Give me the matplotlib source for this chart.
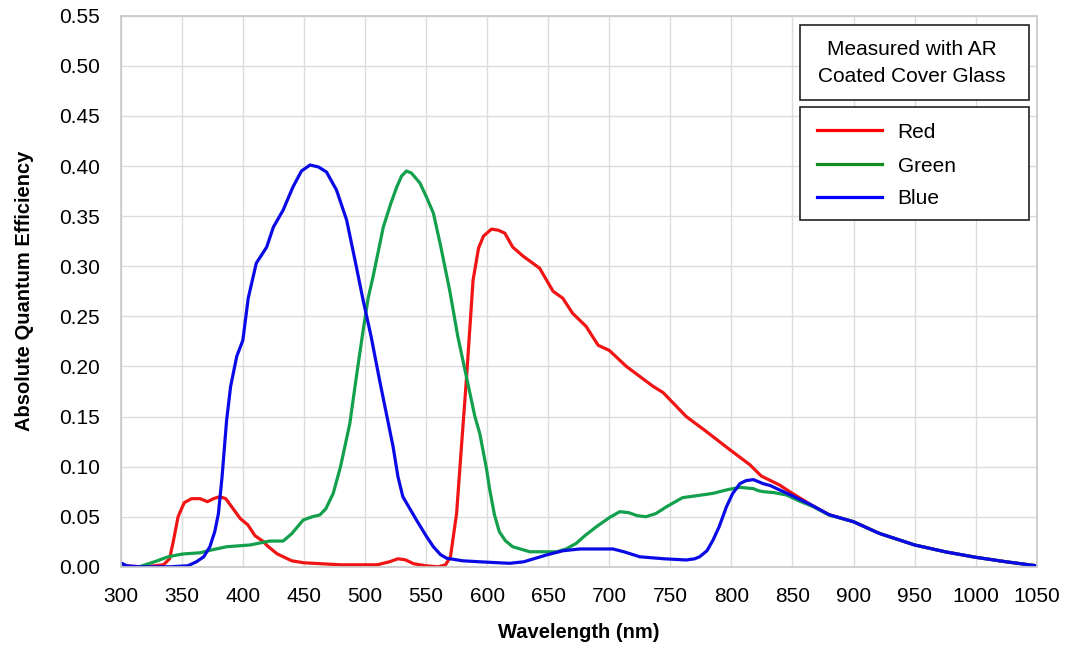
import matplotlib
matplotlib.use("Agg")
import matplotlib.pyplot as plt
from matplotlib.patches import Rectangle
from matplotlib.lines import Line2D

plt.rcParams['font.family'] = ['Liberation Sans', 'DejaVu Sans']

red_x = [300, 320, 335, 340, 343, 347, 352, 358, 365, 371, 376, 381, 386, 392, 398, 404, 410, 417, 420, 428, 440, 450,
         465, 480, 500, 510, 520, 527, 533, 540, 550, 560, 566, 570, 575, 579, 583, 588.5, 593, 597, 603.6, 609, 614.5,
         621, 629.5, 643, 654, 662, 670, 681, 691, 700, 714, 725, 736, 744, 763, 779.5, 798.6, 815, 824.5, 839.5,
         847.7, 865, 880, 900, 921, 950, 975, 1000, 1025, 1050]
red_y = [0.001, 0.000, 0.002, 0.008, 0.025, 0.050, 0.064, 0.068, 0.068, 0.065, 0.068, 0.070, 0.068, 0.058, 0.048, 0.042,
         0.031, 0.025, 0.021, 0.013, 0.006, 0.004, 0.003, 0.002, 0.002, 0.002, 0.005, 0.008, 0.007, 0.003, 0.001,
         0.000, 0.002, 0.010, 0.053, 0.120, 0.186, 0.286, 0.318, 0.330, 0.337, 0.336, 0.333, 0.319, 0.310, 0.298,
         0.275, 0.268, 0.253, 0.240, 0.221, 0.216, 0.200, 0.190, 0.180, 0.174, 0.150, 0.135, 0.117, 0.102, 0.0906,
         0.0816, 0.075, 0.062, 0.052, 0.045, 0.0334, 0.0218, 0.015, 0.0095, 0.005, 0.001]

green_x = [300, 315, 324, 330, 337.6, 345, 351, 365, 375, 386.7, 406, 415, 422, 433, 440, 449.4, 457, 463, 468, 474, 480,
           487.6, 493, 498.5, 502.6, 506.7, 515, 521, 526, 530, 534, 538, 545, 550, 556, 562, 569.5, 576, 583, 590,
           594, 599.5, 602, 606, 610, 615, 621, 635, 657, 665, 673, 680, 689.5, 700, 708.6, 716, 723, 730, 738, 747,
           760, 772, 785, 797, 807, 818, 822, 826, 835, 845, 855, 867, 880, 900, 921, 950, 975, 1000, 1025, 1050]
green_y = [0.000, 0.000, 0.0035, 0.006, 0.0095, 0.0115, 0.0128, 0.014, 0.017, 0.020, 0.0218, 0.024, 0.0257, 0.0257,
           0.033, 0.0467, 0.050, 0.0517, 0.058, 0.0733, 0.100, 0.143, 0.190, 0.236, 0.268, 0.290, 0.339, 0.362, 0.379,
           0.390, 0.395, 0.393, 0.383, 0.370, 0.353, 0.320, 0.275, 0.230, 0.190, 0.150, 0.133, 0.098, 0.078, 0.052,
           0.035, 0.026, 0.020, 0.015, 0.015, 0.018, 0.0234, 0.031, 0.040, 0.049, 0.055, 0.054, 0.051, 0.050, 0.053,
           0.060, 0.069, 0.071, 0.0733, 0.077, 0.0793, 0.078, 0.076, 0.075, 0.074, 0.0717, 0.066, 0.060, 0.0517,
           0.045, 0.0334, 0.0218, 0.015, 0.0095, 0.005, 0.001]

blue_x = [300, 305, 315, 340, 355, 362, 368, 373, 377, 380, 383, 386.7, 390, 395, 400, 404.4, 411, 419.5, 425, 433, 441,
          448, 455, 462, 468.5, 476.7, 485, 492, 498.5, 505, 512, 518, 523, 527, 531, 542, 550, 556, 562, 567, 580,
          594, 610, 618.6, 630, 648.6, 662, 676, 703, 712, 725, 745, 763, 770, 774, 780, 785, 790, 796, 801, 807, 812,
          818, 822, 826, 832, 839.5, 848, 865, 880, 900, 921, 950, 975, 1000, 1025, 1050]
blue_y = [0.004, 0.001, 0.000, 0.000, 0.001, 0.005, 0.010, 0.020, 0.035, 0.053, 0.090, 0.146, 0.180, 0.210, 0.226,
          0.268, 0.303, 0.319, 0.339, 0.356, 0.379, 0.395, 0.401, 0.399, 0.394, 0.376, 0.346, 0.305, 0.266, 0.230,
          0.186, 0.150, 0.120, 0.090, 0.070, 0.047, 0.031, 0.020, 0.012, 0.0085, 0.006, 0.005, 0.004, 0.0035, 0.005,
          0.0118, 0.016, 0.0178, 0.0178, 0.015, 0.010, 0.008, 0.0068, 0.008, 0.010, 0.016, 0.0267, 0.040, 0.060,
          0.073, 0.083, 0.086, 0.087, 0.085, 0.083, 0.081, 0.0767, 0.072, 0.062, 0.052, 0.045, 0.0334, 0.0218, 0.015,
          0.0095, 0.005, 0.001]

series_names = ["Red", "Green", "Blue"]
series_colors = ["#f01414", "#12a04c", "#0a0ae6"]
legend_colors = ["#ff0000", "#138a1e", "#0000ff"]
x_ticks = list(range(300, 1051, 50))
y_ticks = [i * 0.05 for i in range(12)]

W, H = 1065, 650
FS = 15
fig = plt.figure(figsize=(W / 100, H / 100), dpi=100)
ax = fig.add_axes([120.7 / W, 1 - 566.8 / H, (1036.7 - 120.7) / W, (566.8 - 15.7) / H])

for xs, ys, c in zip([red_x, green_x, blue_x], [red_y, green_y, blue_y], series_colors):
    ax.plot(xs, ys, color=c, lw=2.3, solid_joinstyle='round', solid_capstyle='round')

ax.set_xlim(300, 1050)
ax.set_ylim(0, 0.55)
ax.set_xticks(x_ticks)
ax.set_yticks(y_ticks)
ax.set_xticklabels([str(v) for v in x_ticks], fontsize=FS)
ax.set_yticklabels([f"{v:.2f}" for v in y_ticks], fontsize=FS)
ax.tick_params(axis='x', length=0, pad=14.5)
ax.tick_params(axis='y', length=0, pad=15)
ax.grid(True, color='#dcdcdc', lw=1)
ax.set_axisbelow(True)
for s in ax.spines.values():
    s.set_color('#c8c8c8')
    s.set_linewidth(1.2)
ax.set_xlabel("Wavelength (nm)", fontsize=14.5, fontweight='bold', labelpad=12.5)
ax.set_ylabel("Absolute Quantum Efficiency", fontsize=14.5, fontweight='bold', labelpad=18)


def fx(px):
    return px / W


def fy(py):
    return 1 - py / H


# title box
fig.add_artist(Rectangle((fx(800), fy(100)), (1029 - 800) / W, (100 - 25) / H, transform=fig.transFigure,
                         facecolor='white', edgecolor='#222222', lw=1.2))
fig.text(fx(911.5), fy(47.7 + 7.5), "Measured with AR", ha='center', va='baseline', fontsize=FS)
fig.text(fx(911.5), fy(74 + 7.5), "Coated Cover Glass", ha='center', va='baseline', fontsize=FS)
# legend box
fig.add_artist(Rectangle((fx(800), fy(220)), (1029 - 800) / W, (220 - 106.7) / H, transform=fig.transFigure,
                         facecolor='white', edgecolor='#222222', lw=1.2))
legend_rows = [130, 164.3, 196.7]
for yy, name, c in zip(legend_rows, series_names, legend_colors):
    fig.add_artist(Line2D([fx(816.7), fx(881.7)], [fy(yy), fy(yy)], transform=fig.transFigure, color=c, lw=2.3))
    fig.text(fx(897.7), fy(yy + 7.5), name, ha='left', va='baseline', fontsize=FS)

fig.savefig("out.png", dpi=100)
